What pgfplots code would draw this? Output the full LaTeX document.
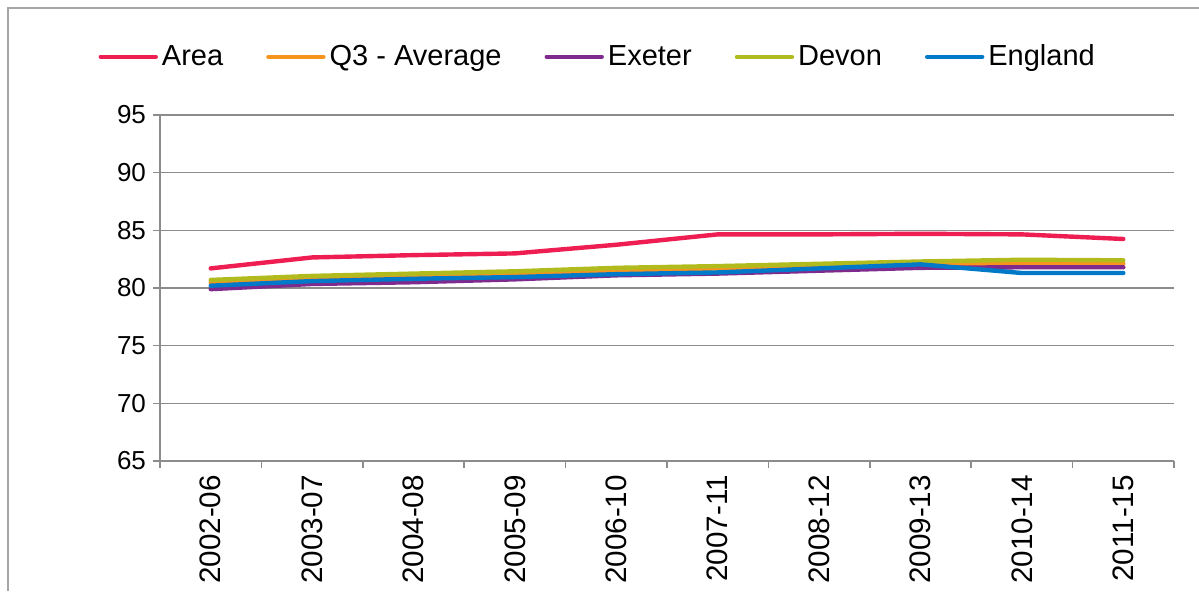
\documentclass[border=0pt]{standalone}
\usepackage{pgfplots}
\pgfplotsset{compat=1.18}
\usepackage{pgfplotstable}
\usepackage{fontspec}
\setmainfont{Liberation Sans}
\definecolor{cArea}{HTML}{EE1D52}
\definecolor{cQ}{HTML}{F7941D}
\definecolor{cEx}{HTML}{7F2B8E}
\definecolor{cDev}{HTML}{B2BB1E}
\definecolor{cEng}{HTML}{0079C8}
\definecolor{cGrid}{HTML}{8C8C8C}
\pgfplotstableread{
x Area Q3 Exeter Devon England
0 81.70 80.50 79.90 80.70 80.20
1 82.65 80.80 80.35 81.05 80.60
2 82.85 81.00 80.50 81.25 80.80
3 83.00 81.20 80.75 81.45 80.95
4 83.75 81.50 81.10 81.75 81.20
5 84.65 81.70 81.25 81.90 81.35
6 84.65 81.90 81.50 82.10 81.70
7 84.70 82.05 81.75 82.30 82.05
8 84.65 82.10 81.80 82.45 81.30
9 84.25 82.10 81.80 82.40 81.30
}\datatable
\begin{document}
\begin{tikzpicture}
\useasboundingbox (0,0) rectangle (599.5pt,295.5pt);
\draw[color=black!35, line width=0.75pt] (4pt,0) -- (4pt,291.5pt) -- (599.5pt,291.5pt);
\begin{axis}[
  at={(80pt,65pt)}, anchor=south west,
  scale only axis, width=507pt, height=173pt,
  xmin=-0.5, xmax=9.5, ymin=65, ymax=95,
  ytick={65,70,...,95},
  xtick={0,...,9},
  xticklabels={2002-06,2003-07,2004-08,2005-09,2006-10,2007-11,2008-12,2009-13,2010-14,2011-15},
  minor xtick={-0.5,0.5,...,9.5},
  major x tick style={draw=none},
  tick align=outside,
  major tick length=3.5pt, minor tick length=3.5pt,
  tick style={cGrid, line width=0.75pt},
  axis x line*=bottom, axis y line*=left,
  axis line style={draw=cGrid, line width=0.75pt, -},
  ymajorgrids,
  grid style={cGrid, line width=0.75pt},
  /pgf/number format/assume math mode=true,
  yticklabel style={font=\fontsize{13}{15}\selectfont},
  xticklabel style={rotate=90, anchor=east, font=\fontsize{14.8}{16}\selectfont},
  legend columns=5,
  legend style={draw=none, fill=none, at={(axis description cs:-0.061,1.168)}, anchor=west,
    font=\fontsize{14.5}{16}\selectfont, inner sep=0pt,
    /tikz/every even column/.append style={column sep=19.5pt}},
  legend image code/.code={\draw[#1, line width=2.2pt, line cap=round] (0pt,0pt) -- (27.5pt,0pt);},
  every axis plot/.append style={line width=2.2pt, line cap=round, line join=round, mark=none},
]
\addplot[cArea] table[x=x, y=Area] {\datatable};
\addlegendentry{Area}
\addplot[cQ] table[x=x, y=Q3] {\datatable};
\addlegendentry{Q3 - Average}
\addplot[cEx] table[x=x, y=Exeter] {\datatable};
\addlegendentry{Exeter}
\addplot[cDev] table[x=x, y=Devon] {\datatable};
\addlegendentry{Devon}
\addplot[cEng] table[x=x, y=England] {\datatable};
\addlegendentry{England}
\end{axis}
\end{tikzpicture}
\end{document}
